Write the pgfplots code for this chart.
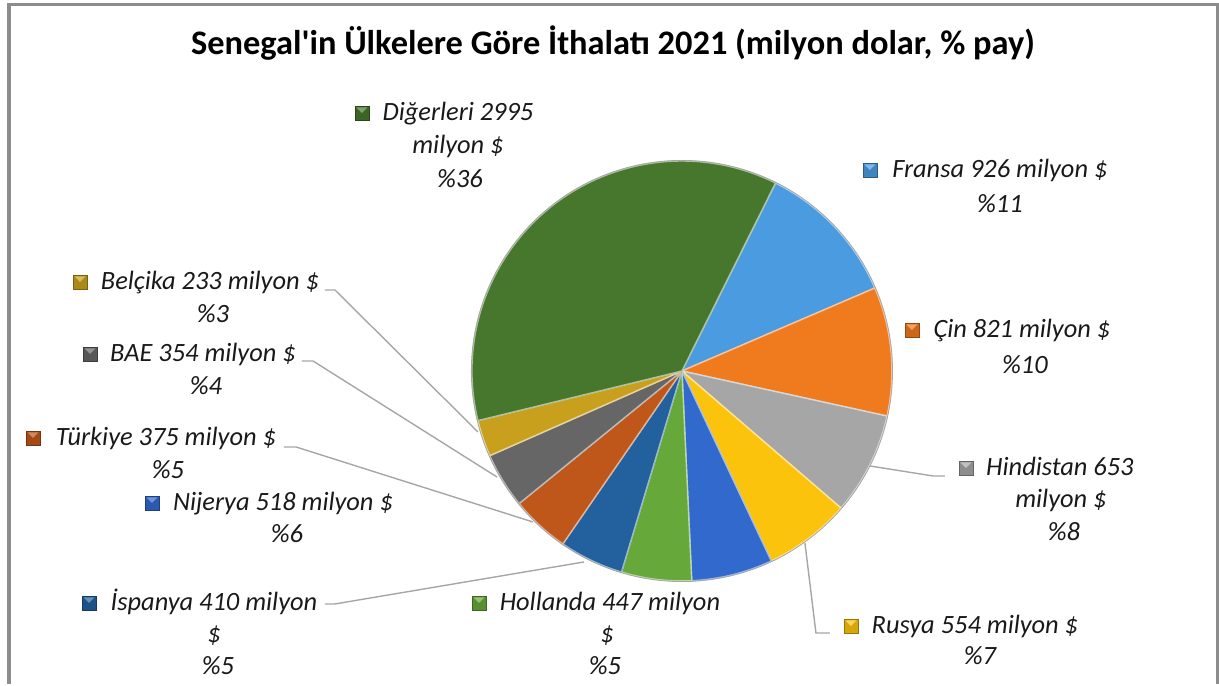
\documentclass[border=0pt]{standalone}
\usepackage{fontspec}
\setmainfont{Carlito}[Ligatures=TeXOff]
\usepackage{pgfplots}
\pgfplotsset{compat=1.18}
\definecolor{cFR}{HTML}{4A9BE0}
\definecolor{cCN}{HTML}{F07A1E}
\definecolor{cIN}{HTML}{A6A6A6}
\definecolor{cRU}{HTML}{FCC30C}
\definecolor{cNG}{HTML}{3169CC}
\definecolor{cNL}{HTML}{67A83A}
\definecolor{cES}{HTML}{22609E}
\definecolor{cTR}{HTML}{C0571A}
\definecolor{cAE}{HTML}{666666}
\definecolor{cBE}{HTML}{C9A01E}
\definecolor{cOT}{HTML}{47772C}
\definecolor{frame}{HTML}{8C8C8C}
\definecolor{leader}{HTML}{A6A6A6}
% value / colour, clockwise from the top-right edge of "Diğerleri"
\def\piedata{926/cFR,821/cCN,653/cIN,554/cRU,518/cNG,447/cNL,410/cES,375/cTR,354/cAE,233/cBE,2995/cOT}
\newcommand\lab[4]{\node[font=\itshape\fontsize{13.2}{15}\selectfont,anchor=mid,text=black!90] at (axis cs:#1,#2+3) {#4};}
\newcommand\key[3]{\fill[#3!85!black,draw=#3!60!black,line width=0.3pt] (axis cs:#1-7,#2-7) rectangle (axis cs:#1+7,#2+7);
 \fill[#3!70!white] (axis cs:#1-5.5,#2-5.5) -- (axis cs:#1+5.5,#2-5.5) -- (axis cs:#1,#2) -- cycle;}
\begin{document}
\begin{tikzpicture}
\begin{axis}[scale only axis, width=609.5pt, height=342pt,
  xmin=0, xmax=1219, ymin=0, ymax=684, y dir=reverse,
  hide axis, clip=false]
\path (axis cs:0,0) rectangle (axis cs:1219,684);
% frame
\draw[frame, line width=1.6pt] (axis cs:9,684) -- (axis cs:9,4.5) -- (axis cs:1217.5,4.5) -- (axis cs:1217.5,684);
% pie
\xdef\tot{0}
\foreach \v/\c in \piedata {\pgfmathsetmacro{\t}{\tot+\v}\xdef\tot{\t}}
\xdef\cum{63.5}
\foreach \v/\c in \piedata {
  \pgfmathsetmacro{\e}{\cum-\v/\tot*360}
  \edef\tmp{\noexpand\fill[\c, draw=white!55!\c, line width=0.7pt, line join=round] (axis cs:682,371) -- ++(\cum:105pt) arc[start angle=\cum, end angle=\e, radius=105pt] -- cycle;}
  \tmp
  \xdef\cum{\e}
}
\draw[black!35, line width=0.4pt] (axis cs:682,371) circle[radius=105.3pt];
% leader lines
\draw[leader, line width=0.7pt] (axis cs:325,290) -- (axis cs:335,290) -- (axis cs:478,432);
\draw[leader, line width=0.7pt] (axis cs:302,361) -- (axis cs:313,361) -- (axis cs:497,477);
\draw[leader, line width=0.7pt] (axis cs:284,447) -- (axis cs:296,447) -- (axis cs:533,522);
\draw[leader, line width=0.7pt] (axis cs:325,604) -- (axis cs:335,604) -- (axis cs:584,562);
\draw[leader, line width=0.7pt] (axis cs:945,476) -- (axis cs:933,476) -- (axis cs:870,466);
\draw[leader, line width=0.7pt] (axis cs:830,633) -- (axis cs:816,633) -- (axis cs:805,543);
% title
\node[font=\bfseries\fontsize{17.2}{20}\selectfont, anchor=mid] at (axis cs:613,50) {Senegal'in Ülkelere Göre İthalatı 2021 (milyon dolar, \% pay)};
% labels
\key{362}{113}{cOT}
\lab{458}{113}{}{Diğerleri 2995}
\lab{458}{146}{}{milyon \$}
\lab{460}{180}{}{\%36}
\key{870}{170}{cFR}
\lab{1000}{170}{}{Fransa 926 milyon \$}
\lab{1000}{205}{}{\%11}
\key{912}{330}{cCN}
\lab{1022}{330}{}{Çin 821 milyon \$}
\lab{1025}{366}{}{\%10}
\key{966}{468}{cIN}
\lab{1060}{468}{}{Hindistan 653}
\lab{1061}{500}{}{milyon \$}
\lab{1064}{533}{}{\%8}
\key{851}{626}{cRU}
\lab{975}{626}{}{Rusya 554 milyon \$}
\lab{980}{657}{}{\%7}
\key{479}{603}{cNL}
\lab{610}{603}{}{Hollanda 447 milyon}
\lab{607}{635}{}{\$}
\lab{605}{667}{}{\%5}
\key{89}{603}{cES}
\lab{214}{603}{}{İspanya 410 milyon}
\lab{214}{635}{}{\$}
\lab{218}{667}{}{\%5}
\key{152}{503}{cNG}
\lab{283}{503}{}{Nijerya 518 milyon \$}
\lab{287}{535}{}{\%6}
\key{33}{438}{cTR}
\lab{166}{438}{}{Türkiye 375 milyon \$}
\lab{168}{471}{}{\%5}
\key{90}{354}{cAE}
\lab{203}{354}{}{BAE 354 milyon \$}
\lab{206}{387}{}{\%4}
\key{80}{282}{cBE}
\lab{210}{282}{}{Belçika 233 milyon \$}
\lab{213}{315}{}{\%3}
\end{axis}
\end{tikzpicture}
\end{document}
